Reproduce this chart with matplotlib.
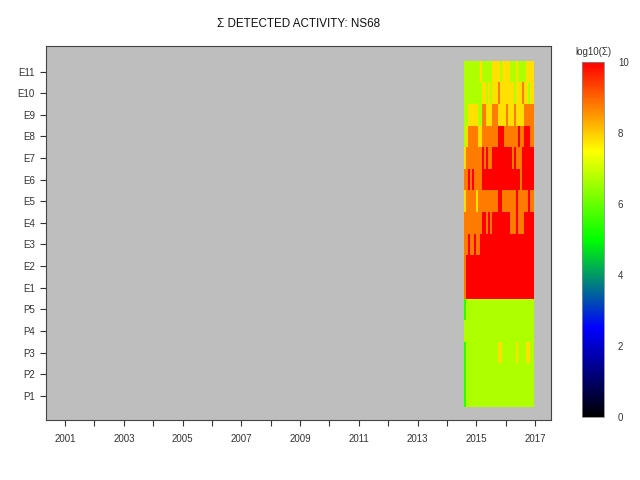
import numpy as np
import matplotlib
matplotlib.use('Agg')
import matplotlib.pyplot as plt
from matplotlib.colors import LinearSegmentedColormap, Normalize
import matplotlib.cm as cm

plt.rcParams['font.family'] = ['Liberation Sans', 'DejaVu Sans']

# channel names, bottom to top
channels = ['P1', 'P2', 'P3', 'P4', 'P5',
            'E1', 'E2', 'E3', 'E4', 'E5', 'E6', 'E7', 'E8', 'E9', 'E10', 'E11']

# log10(sum) levels
levels = {'G': 5.4, 'L': 6.7, 'Y': 7.8, 'O': 8.75, 'R': 10.0}

# one character per time bin, mid 2014 -> end 2016
activity = {
    'P1':  'GLLLLLLLLLLLLLLLLLLLLLLLLLLLLLLLLLL',
    'P2':  'GLLLLLLLLLLLLLLLLLLLLLLLLLLLLLLLLLL',
    'P3':  'GLLLLLLLLLLLLLLLLYYLLLLLLLYLLLLYYLL',
    'P4':  'LLLLLLLLLLLLLLLLLLLLLLLLLLLLLLLLLLL',
    'P5':  'GLLLLLLLLLLLLLLLLLLLLLLLLLLLLLLLLLL',
    'E1':  'ORRRRRRRRRRRRRRRRRRRRRRRRRRRRRRRRRR',
    'E2':  'ORRRRRRRRRRRRRRRRRRRRRRRRRRRRRRRRRR',
    'E3':  'OOROOROORRRRRRRRRRRRRRRRRRRRRRRRRRR',
    'E4':  'OOOOOOOOO' 'RR' 'O' 'R' 'O' 'RRRRRRRRR' 'OOO' 'R' 'OOO' 'RRRRR',
    'E5':  'YOOOOOYOOOOOOOOOORROOOOOOOROOOOOROO',
    'E6':  'OOROROOOORRRRRRRRRRRRRRRRRRRORRRRRR',
    'E7':  'Y' 'OOOOOOOO' 'R' 'O' 'R' 'OO' 'RRRRRRRRRR' 'O' 'R' 'OOO' 'RRRRRR',
    'E8':  'LYOOOOOYYOOOOOOOORRROOOOOOOROORRROO',
    'E9':  'LLYYYYYLLOOYYYOOOYYYYOYYYOYYYYOOOOO',
    'E10': 'LLLLLLLLLYYLYLYYYOYYYYYYYLYYYOYYLYY',
    'E11': 'LLLLLLLLYLLLLLYYYYLYYYYLLLYLLLLYYYY',
}
t_start = 2014.58
t_end = 2016.97

years = list(range(2001, 2018))
year_labels = [str(y) if y % 2 == 1 else '' for y in years]


def build_grid():
    z = np.array([[levels[c] for c in activity[ch]] for ch in channels])
    xedges = np.linspace(t_start, t_end, z.shape[1] + 1)
    yedges = np.arange(0.5, len(channels) + 1, 1.0)
    return xedges, yedges, z


def plot_chart():
    fig = plt.figure(figsize=(6.4, 4.8), dpi=100)
    ax = fig.add_axes([46 / 640, 60 / 480, 505 / 640, 374 / 480])
    ax.set_facecolor('#bebebe')

    cmap = LinearSegmentedColormap.from_list(
        'act', [(0.0, 'black'), (0.25, 'blue'), (0.5, '#00ff00'),
                (0.75, 'yellow'), (1.0, 'red')])
    norm = Normalize(vmin=0, vmax=10)

    xedges, yedges, z = build_grid()
    ax.pcolormesh(xedges, yedges, z, cmap=cmap, norm=norm)

    ax.set_xlim(2000.35, 2017.54)
    ax.set_ylim(-0.12, 17.18)
    ax.set_xticks(years)
    ax.set_xticklabels(year_labels)
    ax.set_yticks(range(1, len(channels) + 1))
    ax.set_yticklabels(channels)
    ax.tick_params(axis='x', labelsize=7, colors='#333333', length=4, pad=6)
    ax.tick_params(axis='y', labelsize=7, colors='#333333', length=4, pad=4)
    for s in ax.spines.values():
        s.set_color('#444444')
        s.set_linewidth(0.8)

    fig.text(298.5 / 640, 1 - 24 / 480, '\u03a3 DETECTED ACTIVITY: NS68',
             ha='center', va='center', fontsize=8.4, color='#111111')

    cax = fig.add_axes([582 / 640, 63 / 480, 22 / 640, 355 / 480])
    cb = fig.colorbar(cm.ScalarMappable(norm=norm, cmap=cmap), cax=cax)
    cb.set_ticks([0, 2, 4, 6, 8, 10])
    cb.ax.tick_params(length=0, labelsize=7, colors='#333333', pad=10)
    cb.outline.set_edgecolor('#888888')
    cb.outline.set_linewidth(0.6)
    fig.text(593 / 640, 1 - 52 / 480, 'log10(\u03a3)', ha='center', va='center',
             fontsize=7, color='#333333')

    fig.savefig('out.png', dpi=100, facecolor='white')


def main():
    plot_chart()

main()
